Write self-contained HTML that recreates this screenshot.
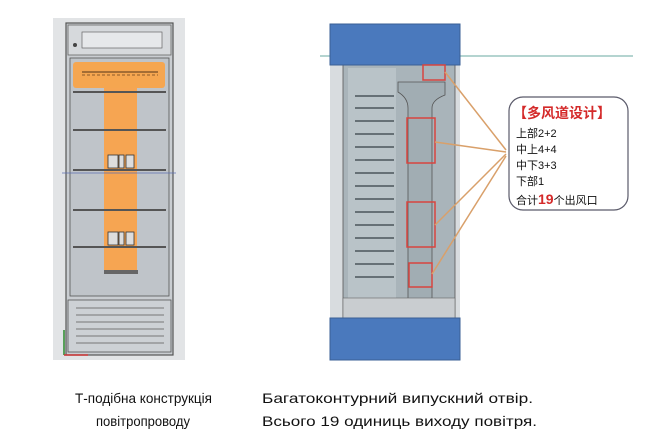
<!DOCTYPE html>
<html><head><meta charset="utf-8"><style>
body{margin:0;background:#fff;width:670px;height:442px;overflow:hidden}
svg{display:block}
</style></head><body>
<svg width="670" height="442" viewBox="0 0 670 442" xmlns="http://www.w3.org/2000/svg">
<!-- Left fridge -->
<rect x="53" y="18" width="132" height="342" fill="#e2e4e6"/>
<rect x="66" y="23" width="107" height="332" fill="#c9cdd1" stroke="#555" stroke-width="1.2"/>
<rect x="68" y="25" width="103" height="30" fill="#d6d9dc" stroke="#666" stroke-width="0.8"/>
<rect x="82" y="32" width="80" height="16" fill="#e6e8ea" stroke="#666" stroke-width="0.7"/>
<circle cx="75" cy="45" r="2" fill="#444"/>
<rect x="70" y="58" width="99" height="238" fill="#bfc4c9" stroke="#555" stroke-width="0.8"/>
<rect x="73" y="62" width="92" height="26" rx="3" fill="#f5a650"/>
<line x1="82" y1="72" x2="158" y2="72" stroke="#8a5a2a" stroke-width="1.5"/>
<line x1="82" y1="75" x2="158" y2="75" stroke="#8a5a2a" stroke-width="1" stroke-dasharray="3,2"/>
<rect x="104" y="88" width="33" height="185" fill="#f6a552"/>
<g stroke="#555" stroke-width="2">
<line x1="73" y1="92" x2="166" y2="92"/>
<line x1="73" y1="130" x2="166" y2="130"/>
<line x1="73" y1="170" x2="166" y2="170"/>
<line x1="73" y1="210" x2="166" y2="210"/>
<line x1="73" y1="247" x2="166" y2="247"/>
</g>
<line x1="62" y1="173" x2="176" y2="173" stroke="#5b6fb0" stroke-width="0.8"/>
<g fill="#ddd" stroke="#333" stroke-width="0.8">
<rect x="108" y="155" width="10" height="13"/><rect x="119" y="155" width="5" height="13"/><rect x="126" y="155" width="8" height="13"/>
<rect x="108" y="232" width="10" height="13"/><rect x="119" y="232" width="5" height="13"/><rect x="126" y="232" width="8" height="13"/>
</g>
<rect x="104" y="270" width="34" height="4" fill="#666"/>
<rect x="68" y="300" width="103" height="52" fill="#cdd1d5" stroke="#555" stroke-width="0.8"/>
<g stroke="#777" stroke-width="1">
<line x1="76" y1="308" x2="164" y2="308"/><line x1="76" y1="315" x2="164" y2="315"/>
<line x1="76" y1="322" x2="164" y2="322"/><line x1="76" y1="329" x2="164" y2="329"/>
<line x1="76" y1="336" x2="164" y2="336"/><line x1="76" y1="343" x2="164" y2="343"/>
</g>
<line x1="64" y1="330" x2="64" y2="355" stroke="#2a8a2a" stroke-width="1.5"/>
<line x1="64" y1="355" x2="88" y2="355" stroke="#c33" stroke-width="1.5"/>

<!-- Right fridge -->
<line x1="320" y1="56" x2="633" y2="56" stroke="#6aa9a0" stroke-width="1"/>
<rect x="330" y="65" width="130" height="253" fill="#d8dcdf"/>
<rect x="343" y="65" width="112" height="253" fill="#a9b4ba" stroke="#555" stroke-width="0.8"/>
<rect x="348" y="68" width="48" height="238" fill="#b9c3c8"/>
<g stroke="#4a555b" stroke-width="1.6">
<line x1="355" y1="96" x2="394" y2="96"/><line x1="355" y1="108" x2="394" y2="108"/>
<line x1="355" y1="121" x2="394" y2="121"/><line x1="355" y1="134" x2="394" y2="134"/>
<line x1="355" y1="147" x2="394" y2="147"/><line x1="355" y1="160" x2="394" y2="160"/>
<line x1="355" y1="173" x2="394" y2="173"/><line x1="355" y1="186" x2="394" y2="186"/>
<line x1="355" y1="199" x2="394" y2="199"/><line x1="355" y1="212" x2="394" y2="212"/>
<line x1="355" y1="225" x2="394" y2="225"/><line x1="355" y1="238" x2="394" y2="238"/>
<line x1="355" y1="251" x2="394" y2="251"/><line x1="355" y1="264" x2="394" y2="264"/>
<line x1="355" y1="277" x2="394" y2="277"/>
</g>
<path d="M398 82 L445 82 L445 95 Q432 100 432 108 L432 300 L408 300 L408 108 Q408 98 398 92 Z" fill="#a1adb3" stroke="#555" stroke-width="0.8"/>
<rect x="343" y="298" width="112" height="20" fill="#c9cdd0" stroke="#666" stroke-width="0.6"/>
<rect x="330" y="24" width="130" height="41" fill="#4a79bd" stroke="#3a5f95"/>
<rect x="330" y="318" width="130" height="42" fill="#4a79bd" stroke="#3a5f95"/>
<g fill="none" stroke="#d8453f" stroke-width="1.5">
<rect x="423" y="65" width="22" height="15"/>
<rect x="407" y="118" width="28" height="45"/>
<rect x="407" y="202" width="28" height="45"/>
<rect x="409" y="263" width="23" height="24"/>
</g>
<g stroke="#d9a06a" stroke-width="1.5">
<line x1="445" y1="72" x2="506" y2="150"/>
<line x1="435" y1="142" x2="506" y2="152"/>
<line x1="435" y1="225" x2="506" y2="154"/>
<line x1="432" y1="274" x2="506" y2="156"/>
</g>
<rect x="509" y="97" width="119" height="113" rx="14" fill="#fff" stroke="#5a5a6a" stroke-width="1.2"/>
<g font-family="'Liberation Sans','Noto Sans CJK SC',sans-serif">
<text x="562" y="118" font-size="14" font-weight="bold" fill="#d42a2a" text-anchor="middle">【多风道设计】</text>
<text x="516" y="137" font-size="11" fill="#111">上部2+2</text>
<text x="516" y="153" font-size="11" fill="#111">中上4+4</text>
<text x="516" y="169" font-size="11" fill="#111">中下3+3</text>
<text x="516" y="185" font-size="11" fill="#111">下部1</text>
<text x="516" y="204" font-size="11" fill="#111">合计<tspan font-size="14" font-weight="bold" fill="#d42a2a">19</tspan>个出风口</text>
</g>
<g font-family="'Liberation Sans',sans-serif" font-size="14" fill="#111">
<text x="75" y="403" textLength="137" lengthAdjust="spacingAndGlyphs">Т-подібна конструкція</text>
<text x="96" y="426" textLength="94" lengthAdjust="spacingAndGlyphs">повітропроводу</text>
<text x="262" y="403" textLength="271" lengthAdjust="spacingAndGlyphs">Багатоконтурний випускний отвір.</text>
<text x="262" y="426" textLength="275" lengthAdjust="spacingAndGlyphs">Всього 19 одиниць виходу повітря.</text>
</g>
</svg>
</body></html>
